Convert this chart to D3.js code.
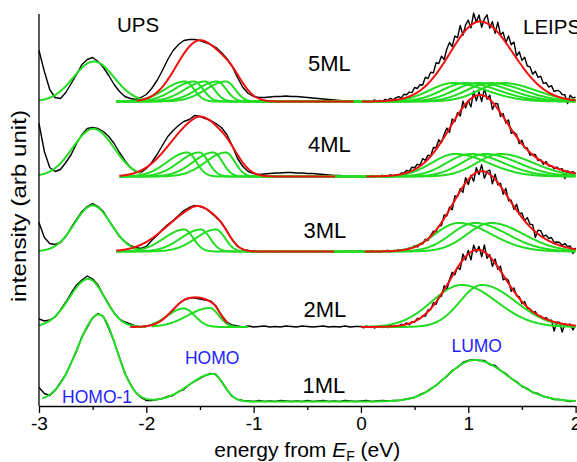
<!DOCTYPE html>
<html><head><meta charset="utf-8">
<script src="https://cdn.jsdelivr.net/npm/d3@7"></script>
<style>body{margin:0;background:#fff;} svg{display:block;font-family:"Liberation Sans",Arial,sans-serif;}</style>
</head><body><svg id="c" width="577" height="462"></svg>
<script>
// ---------------- data ----------------
const upsStart = -3, upsStep = 0.05;      // UPS-side spectra sampled every 0.05 eV from -3 eV
const leipsStart = 0, leipsStep = 0.025;  // LEIPS-side spectra sampled every 0.025 eV from 0 to 2 eV
const layerNames = ["1ML","2ML","3ML","4ML","5ML"];
const layerOffsets = [4.5, 79, 154.5, 229.5, 304.5]; // vertical offsets (arb. units)

// 1ML: whole range -3..2 eV at 0.05 eV
const black1ML = [14,8,6,11,19,27,39,50,65,74,84,88,85,73,60,44,28,18,9,4,1,
  1,2,3,5,6,10,12,17,20,23,26,28,27,20,12,5,2,1,
  0.5,0,1,0,0.5,0,1,0.5,0,0.5,0,1,0,0.5,1,0,0.5,0,1,0.5,0,0.5,1,0,0.5,1,0.5,
  1,1,2,3,4,7,9,13,16,21,25,31,34,39,41,42,41,41,37,36,31,28,23,20,15,13,9,8,5,4,2,2,1,0,1];
// 2ML..5ML: UPS side (-3 .. -0.05 eV)
const ups2ML = [8,6,7,10,17,25,34,42,47,51,48,42,32,23,14,8,5,3,1,0,1,
  2,4,7,12,17,23,27,29,29,28,27,26,21,12,5,2,1,
  0,1,0,0.5,1,0,0.5,0,1,0.5,0,1,0.5,0,0.5,1,0,0.5,0,1,0,0.5];
const ups3ML = [29,14,8,7,9,15,24,32,40,45,48,45,40,31,23,15,10,6,4,3,5,
  11,16,22,27,31,36,41,44,46,45,43,39,34,29,21,12,5,2,1,
  0,-0.3,0.2,0,-0.3,0,0.2,0,-0.3,0,0.2,-0.2,0,0.2,0,-0.3,0,0.2,0,0];
const ups4ML = [53,25,9,5,7,14,22,33,42,48,49,48,45,40,33,24,16,9,5,4,8,
  14,22,31,40,46,51,55,57,61,60,58,56,53,49,42,31,18,10,5,3,2,
  2.5,3,3.5,3.5,4,4,3.5,3.5,3,3,2.5,2,1.5,1,1,0.5,0,0.5];
const ups5ML = [51,30,12,4,3,9,18,27,37,42,44,40,34,26,17,10,5,3,2,4,7,
  13,21,31,42,51,57,61,62,62,61,59,57,54,49,43,35,24,14,8,5,4,
  4,4.5,5,5,5.5,5,5,4.5,4,3.5,3,2.5,2,1.5,1,0.5,0.5,0];
// 2ML..5ML: LEIPS side (0 .. 2 eV)
const leips2ML = [0.5,-0.8,1,-0.3,0.6,-1,0.3,1,-0.5,0.7,-0.6,1.6,0.2,1.3,0.3,2.7,2,4.1,2.3,5.3,
  4.8,8.6,8.1,11.2,10.9,17.1,17.5,24.3,22.6,30.3,30.7,41.2,37.2,47.5,54.7,52.3,59.9,57.6,73,66.9,
  76.5,67.1,81.8,74.9,80.6,70.3,82,68.6,72.3,60.6,68.1,57.7,60.9,47.2,48.7,46.4,35.6,39.1,31.1,30.4,
  23.3,25.5,18.7,18.2,13.2,15.5,10.6,11.1,7.6,9.5,6.5,6.9,-4,4.8,4.8,-5,3.4,1.8,3,-3,1.6];
const leips3ML = [0.9,-0.7,0.4,-1,1,-0.5,0.4,-0.8,0.9,0,1.3,-0.6,1,0.1,1.9,0.8,1.8,1,3.6,3.2,
  5.9,4.5,7.5,7.7,12.3,11,16.1,20.4,20,25.5,25.9,36.6,35.5,44.4,41.7,55.6,54.6,62.8,59.1,73.9,
  67,76.3,70.2,83.8,77,86.7,73.3,80.1,81.5,67.6,77.4,66.6,68.3,57.3,63.2,50.8,51.2,42.1,47.3,37.7,
  38.6,30.8,33.9,27.2,26.9,14,21.4,20.7,15.2,16.4,13,14,9,9.5,9,6.1,8,5,5.5,-2,3.6];
const leips4ML = [0.2,-1,0.7,-0.25,1.1,-0.65,0.6,-0.35,1.3,-0.6,0.9,1.7,0.5,1.5,0.7,3.5,3.4,6.1,5.1,9.3,
  8.8,12.2,11.3,17.8,16.2,21.3,20.5,29,28.8,36.8,33.8,42.1,48.4,44.1,57.6,55,63.9,60.5,75.2,68.4,
  76.2,69.6,85.3,75.7,84.5,75,88,77.3,81.3,67.1,73,72.7,59.9,62.9,53.5,56.6,43.1,44.4,41.7,33,
  36.2,28.6,28.6,21.3,22.2,21.9,15.9,16.8,12.2,14.9,10.5,10.8,7.6,9.5,6.9,7.9,-2,5.6,3.4,4.8,2.6];
const leips5ML = [-0.9,1.05,0,0.8,-0.4,1.6,0.1,1.2,0,2.2,1.2,3.2,1.6,3.6,4.9,3.6,7.2,6.8,9.4,8.9,
  14,13,16.8,16.5,24.3,22.9,29.2,28.6,38.7,38,45.3,42,52.5,59,54.8,65.5,63.8,76.1,66.3,76.6,
  81.3,73.6,88.4,79.2,86.5,74.1,82.7,86.7,73.3,79.9,68.1,79.4,66.8,69.2,58.7,65.6,56.7,59.5,45.7,49.7,
  41.1,44.2,35.5,34.7,27.3,30.2,24.1,25.3,18.1,18.8,14.4,15.9,10,11.1,10.4,7,6.7,-2,6.2,3.6,4.2];

// fitted peaks: [centre eV, height, HWHM low side, HWHM high side]
const green1ML = [[-2.44,87,0.24,0.19],[-1.38,27.5,0.26,0.12],[1.06,41.5,0.31,0.37]];
const green1MLRange = [-2.97, 2.0];
const homo1Peaks = [null,[-2.54,48,0.21,0.18],[-2.5,46,0.2,0.2],[-2.494,47.7,0.225,0.225],[-2.49,40,0.222,0.222]];
const homo1Ranges = [null,[-3,-2.0],[-3,-1.98],[-3,-2.05],[-3,-2.05]];
const upsComps = [null,
  [[-1.65,18.5,0.18,0.12],[-1.41,19,0.24,0.1]],
  [[-1.647,22,0.22,0.1],[-1.491,22,0.22,0.1],[-1.351,22,0.22,0.1]],
  [[-1.618,24,0.22,0.1],[-1.506,24,0.22,0.1],[-1.376,24,0.22,0.1],[-1.26,24,0.22,0.1]],
  [[-1.64,20,0.22,0.1],[-1.555,20,0.22,0.1],[-1.452,20,0.22,0.1],[-1.34,20,0.22,0.1],[-1.257,20,0.22,0.1]]];
const upsCompRanges = [null,[-1.95,-1.05],[-2.28,-0.25],[-2.25,-0.24],[-2.28,-0.07]];
const leipsComps = [null,
  [[0.94,42,0.33,0.38],[1.126,42,0.24,0.37]],
  [[0.91,28.5,0.26,0.36],[1.06,28.5,0.26,0.36],[1.21,28.5,0.26,0.36]],
  [[0.88,22.5,0.26,0.36],[1.02,22.5,0.26,0.36],[1.16,22.5,0.26,0.36],[1.30,22.5,0.26,0.36]],
  [[0.86,18.5,0.26,0.36],[0.975,18.5,0.26,0.36],[1.09,18.5,0.26,0.36],[1.205,18.5,0.26,0.36],[1.32,18.5,0.26,0.36]]];
const leipsCompRanges = [null,[0.0,2.0],[-0.25,2.0],[-0.24,2.0],[-0.07,2.0]];
const redUps = [null,
  [[-1.62,26,0.17,0.2],[-1.38,14,0.15,0.08]],
  [[-1.58,37,0.3,0.2],[-1.33,20,0.2,0.12]],
  [[-1.56,50,0.28,0.2],[-1.28,30,0.2,0.16]],
  [[-1.55,53,0.22,0.2],[-1.25,31,0.2,0.16]]];
const redUpsRanges = [null,[-2.15,-1.24],[-2.28,-0.25],[-2.25,-0.24],[-2.09,-0.07]];
const redLeips = [null,
  [[1.08,76,0.3,0.3],[1.55,6,0.3,0.3]],
  [[1.11,78,0.3,0.3],[1.55,10,0.3,0.3]],
  [[1.1,80,0.32,0.3],[1.6,10,0.3,0.3]],
  [[1.11,80,0.33,0.36]]];
const redLeipsRanges = [null,[0.0,2.0],[0.035,2.0],[0.05,2.0],[0.01,2.0]];

const xMajorTicks = [-3,-2,-1,0,1,2];
const xMinorTicks = [-2.5,-1.5,-0.5,0.5,1.5];
// text annotations: [text, energy, intensity]
const layerLabels = [["1ML",-0.545,13.3],["2ML",-0.535,89.3],["3ML",-0.535,167.7],["4ML",-0.494,254],["5ML",-0.494,335.3]];
const methodLabels = [["UPS",-2.273,373.7],["LEIPS",1.51,371.7]];
const orbitalLabels = [["HOMO-1",-2.785,3],["HOMO",-1.64,42],["LUMO",0.843,54.3]];

// ---------------- drawing ----------------
const svg = d3.select("#c");
const x = d3.scaleLinear().domain([-3,2]).range([39,575.6]);
const y = d3.scaleLinear().domain([0,392]).range([406,14]);
const GREEN = "#22dd22", RED = "#f01010", BLUE = "#1f1fff";

function peak(E, p){ const w = E < p[0] ? p[2] : p[3]; const d = (E - p[0]) / w; return p[1]*Math.exp(-Math.LN2*d*d); }
function curve(peaks, range){
  const pts = d3.range(range[0], range[1]+1e-9, 0.005);
  if (pts[pts.length-1] < range[1]) pts.push(range[1]);
  return pts.map(E => [E, d3.sum(peaks, p => peak(E,p))]);
}
const upsArrays = [null, ups2ML, ups3ML, ups4ML, ups5ML];
const leipsArrays = [null, leips2ML, leips3ML, leips4ML, leips5ML];
function blackPoints(i){
  if (i === 0) return black1ML.map((v,k) => [upsStart + k*upsStep, v]);
  return upsArrays[i].map((v,k) => [upsStart + k*upsStep, v])
    .concat(leipsArrays[i].map((v,k) => [leipsStart + k*leipsStep, v]));
}

const plot = svg.append("g");
const lineFor = off => d3.line().x(d => x(d[0])).y(d => y(d[1] + off));
layerNames.forEach((n, i) => {
  plot.append("path").attr("d", lineFor(layerOffsets[i])(blackPoints(i)))
    .attr("fill","none").attr("stroke","#000").attr("stroke-width",1.4).attr("stroke-linejoin","round");
});
layerNames.forEach((n, i) => {
  const line = lineFor(layerOffsets[i]);
  const addG = (peaks, range) => plot.append("path").attr("d", line(curve(peaks, range)))
      .attr("fill","none").attr("stroke",GREEN).attr("stroke-width",2);
  if (i === 0) { addG(green1ML, green1MLRange); return; }
  addG([homo1Peaks[i]], homo1Ranges[i]);
  upsComps[i].forEach(p => addG([p], upsCompRanges[i]));
  leipsComps[i].forEach(p => addG([p], leipsCompRanges[i]));
});
layerNames.forEach((n, i) => {
  if (i === 0) return;
  const line = lineFor(layerOffsets[i]);
  plot.append("path").attr("d", line(curve(redUps[i], redUpsRanges[i])))
    .attr("fill","none").attr("stroke",RED).attr("stroke-width",2);
  plot.append("path").attr("d", line(curve(redLeips[i], redLeipsRanges[i])))
    .attr("fill","none").attr("stroke",RED).attr("stroke-width",2);
});

// axes
const ax = svg.append("g").attr("transform", `translate(0,${y(0)})`)
  .call(d3.axisBottom(x).tickValues(xMajorTicks).tickSize(7).tickSizeOuter(0).tickPadding(4).tickFormat(d => String(d)));
ax.select(".domain").attr("stroke-width",1.3);
ax.selectAll(".tick line").attr("stroke-width",1.3);
ax.selectAll(".tick text").attr("font-size",19).attr("font-family","Liberation Sans, Arial, sans-serif").attr("fill","#000");
const axm = svg.append("g").attr("transform", `translate(0,${y(0)})`)
  .call(d3.axisBottom(x).tickValues(xMinorTicks).tickSize(4).tickSizeOuter(0).tickFormat(""));
axm.select(".domain").remove();
axm.selectAll(".tick line").attr("stroke-width",1.3);
svg.append("line").attr("x1",x(-3)).attr("x2",x(-3)).attr("y1",y(0)).attr("y2",y(392))
  .attr("stroke","#000").attr("stroke-width",1.3);

// axis titles
const xt = svg.append("text").attr("x", (x(-3)+x(2))/2).attr("y", 457).attr("text-anchor","middle")
  .attr("font-size",21).attr("fill","#000");
xt.append("tspan").text("energy from ");
xt.append("tspan").attr("font-style","italic").text("E");
xt.append("tspan").attr("font-size",14).attr("dy",4).text("F");
xt.append("tspan").attr("dy",-4).text(" (eV)");
svg.append("text").attr("transform","translate(26,206) rotate(-90)").attr("text-anchor","middle")
  .attr("font-size",21).attr("textLength",192).attr("lengthAdjust","spacingAndGlyphs").attr("fill","#000")
  .text("intensity (arb unit)");

// annotations
svg.selectAll(".ml").data(layerLabels).join("text").attr("class","ml")
  .attr("x", d => x(d[1])).attr("y", d => y(d[2])).attr("font-size",22).attr("fill","#000").text(d => d[0]);
svg.selectAll(".meth").data(methodLabels).join("text").attr("class","meth")
  .attr("x", d => x(d[1])).attr("y", d => y(d[2])).attr("font-size",20.5).attr("fill","#000").text(d => d[0]);
svg.selectAll(".orb").data(orbitalLabels).join("text").attr("class","orb")
  .attr("x", d => x(d[1])).attr("y", d => y(d[2])).attr("font-size",17.5).attr("fill",BLUE).text(d => d[0]);
</script></body></html>
